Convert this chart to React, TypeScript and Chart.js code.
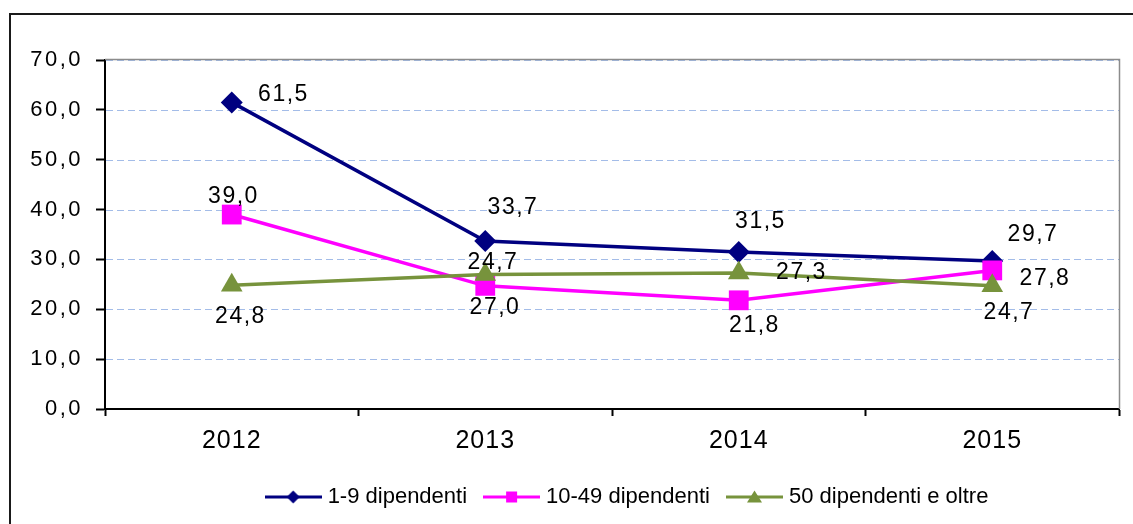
import React, { useEffect, useRef } from 'react';
import { Chart, registerables } from 'chart.js';

Chart.register(...registerables);

const categories = ['2012', '2013', '2014', '2015'];
const seriesNames = ['1-9 dipendenti', '10-49 dipendenti', '50 dipendenti e oltre'];
const small = [61.5, 33.7, 31.5, 29.7];
const medium = [39.0, 24.7, 21.8, 27.8];
const large = [24.8, 27.0, 27.3, 24.7];
const yMin = 0;
const yMax = 70;
const yStep = 10;

const seriesColors = ['#000080', '#FF00FF', '#77933C'];
const seriesMarkers = ['rectRot', 'rect', 'triangle'];
const markerRadius = [11, 14, 12.5];

// pixel offsets of each data label from its point
const labelOffsets = [
  [[51, -8], [27, -33], [21, -30], [40, -26]],
  [[1, -18], [7, -23], [15, 25], [52, 8]],
  [[8, 31], [9, 33], [62, 0], [16, 27]],
];

const FONT = '"Liberation Sans", Arial, sans-serif';
const GRID_COLOR = '#a3bce8';
const fmt = (v: number) => v.toFixed(1).replace('.', ',');

function makeIcon(color: string, marker: string): HTMLCanvasElement {
  const c = document.createElement('canvas');
  const w = 57;
  const h = 18;
  c.width = w;
  c.height = h;
  const ctx = c.getContext('2d')!;
  const cx = w / 2;
  const cy = h / 2;
  ctx.strokeStyle = color;
  ctx.fillStyle = color;
  ctx.lineWidth = 3;
  ctx.beginPath();
  ctx.moveTo(0, cy);
  ctx.lineTo(w, cy);
  ctx.stroke();
  ctx.beginPath();
  if (marker === 'rectRot') {
    ctx.moveTo(cx, cy - 6.5);
    ctx.lineTo(cx + 6.5, cy);
    ctx.lineTo(cx, cy + 6.5);
    ctx.lineTo(cx - 6.5, cy);
  } else if (marker === 'rect') {
    ctx.rect(cx - 5.5, cy - 5.5, 11, 11);
  } else {
    ctx.moveTo(cx, cy - 6.5);
    ctx.lineTo(cx + 7.5, cy + 5.5);
    ctx.lineTo(cx - 7.5, cy + 5.5);
  }
  ctx.closePath();
  ctx.fill();
  return c;
}

const framePlugin = {
  id: 'frame',
  beforeDraw(chart: any) {
    const { ctx, width, height } = chart;
    ctx.save();
    ctx.fillStyle = '#ffffff';
    ctx.fillRect(0, 0, width, height);
    ctx.strokeStyle = '#1a1a1a';
    ctx.lineWidth = 2;
    ctx.beginPath();
    ctx.moveTo(10, height + 5);
    ctx.lineTo(10, 14);
    ctx.lineTo(width + 5, 14);
    ctx.stroke();
    ctx.restore();
  },
  beforeDatasetsDraw(chart: any) {
    const { ctx, chartArea } = chart;
    const y = chart.scales.y;
    ctx.save();
    // dashed horizontal gridlines at each y tick
    ctx.strokeStyle = GRID_COLOR;
    ctx.lineWidth = 1;
    ctx.setLineDash([7, 4]);
    y.ticks.forEach((t: any) => {
      if (t.value === yMin) return;
      const py = Math.round(y.getPixelForValue(t.value)) + 0.5;
      ctx.beginPath();
      ctx.moveTo(chartArea.left + 1, py);
      ctx.lineTo(chartArea.right, py);
      ctx.stroke();
    });
    ctx.setLineDash([]);
    // plot area border (top and right)
    ctx.strokeStyle = '#8c8c8c';
    ctx.lineWidth = 1.5;
    ctx.beginPath();
    ctx.moveTo(chartArea.left, chartArea.top - 0.5);
    ctx.lineTo(chartArea.right + 0.5, chartArea.top - 0.5);
    ctx.lineTo(chartArea.right + 0.5, chartArea.bottom);
    ctx.stroke();
    ctx.restore();
  },
};

// letter spacing on the axis tick labels, and legend shift
const tickSpacingPlugin = {
  id: 'tickSpacing',
  afterLayout(chart: any) {
    const spacing: Record<string, string> = { x: '1px', y: '2.5px' };
    Object.keys(spacing).forEach((id) => {
      const s = chart.scales[id];
      if (!s || s.__spaced) return;
      const orig = s.drawLabels.bind(s);
      s.drawLabels = (area: any) => {
        const ctx = chart.ctx;
        ctx.save();
        try {
          ctx.letterSpacing = spacing[id];
        } catch (e) {
          /* ignore */
        }
        orig(area);
        ctx.restore();
      };
      s.__spaced = true;
    });
    if (chart.legend && !chart.legend.__shifted) {
      chart.legend.left += 17;
      chart.legend.right += 17;
      chart.legend.__shifted = true;
    }
  },
};

const labelPlugin = {
  id: 'valueLabels',
  afterDatasetsDraw(chart: any) {
    const { ctx } = chart;
    ctx.save();
    ctx.font = `23px ${FONT}`;
    ctx.fillStyle = '#000000';
    ctx.textAlign = 'center';
    ctx.textBaseline = 'middle';
    try {
      (ctx as any).letterSpacing = '1.5px';
    } catch (e) {
      /* ignore */
    }
    chart.data.datasets.forEach((ds: any, di: number) => {
      const meta = chart.getDatasetMeta(di);
      meta.data.forEach((pt: any, i: number) => {
        const off = labelOffsets[di][i];
        ctx.fillText(fmt(ds.data[i]), pt.x + off[0] + 0.75, pt.y + off[1]);
      });
    });
    ctx.restore();
  },
};

export default function App() {
  const ref = useRef<HTMLCanvasElement | null>(null);

  useEffect(() => {
    if (!ref.current) return;
    const icons = seriesColors.map((c, i) => makeIcon(c, seriesMarkers[i]));
    const values = [small, medium, large];
    const chart = new Chart(ref.current, {
      type: 'line',
      data: {
        labels: categories,
        datasets: values.map((vals, i) => ({
          label: seriesNames[i],
          data: vals,
          borderColor: seriesColors[i],
          backgroundColor: seriesColors[i],
          borderWidth: 3.5,
          pointStyle: seriesMarkers[i] as any,
          pointRadius: markerRadius[i],
          pointBorderWidth: 0,
          pointBackgroundColor: seriesColors[i],
          tension: 0,
          order: 3 - i,
        })),
      },
      options: {
        animation: false,
        responsive: false,
        maintainAspectRatio: false,
        layout: { padding: { left: 0, right: 14, top: 60, bottom: 6 } },
        plugins: {
          tooltip: { enabled: false },
          legend: {
            position: 'bottom',
            fullSize: false,
            labels: {
              usePointStyle: true,
              pointStyleWidth: 47,
              padding: 21,
              color: '#000000',
              font: { family: FONT, size: 22 },
              sort: (a: any, b: any) => a.datasetIndex - b.datasetIndex,
              generateLabels: (ch: any) =>
                (Chart.defaults.plugins.legend.labels as any)
                  .generateLabels(ch)
                  .map((l: any) => ({ ...l, pointStyle: icons[l.datasetIndex], rotation: 0 })),
            },
          },
        },
        scales: {
          x: {
            type: 'category',
            offset: true,
            afterFit: (s: any) => {
              s.height = 56;
            },
            grid: {
              offset: true,
              drawOnChartArea: false,
              drawTicks: true,
              tickLength: 7,
              tickColor: '#000000',
              tickWidth: 2,
            },
            border: { display: true, color: '#000000', width: 2 },
            ticks: {
              color: '#000000',
              padding: 10,
              font: { family: FONT, size: 25 },
            },
          },
          y: {
            min: yMin,
            max: yMax,
            afterFit: (s: any) => {
              s.width = 105;
            },
            grid: {
              drawOnChartArea: false,
              drawTicks: true,
              tickLength: 9,
              tickColor: '#000000',
              tickWidth: 2,
            },
            border: { display: true, color: '#000000', width: 2 },
            ticks: {
              stepSize: yStep,
              color: '#000000',
              padding: 13,
              font: { family: FONT, size: 22 },
              callback: (v: any) => fmt(Number(v)),
            },
          },
        },
      },
      plugins: [framePlugin, tickSpacingPlugin, labelPlugin],
    });
    return () => chart.destroy();
  }, []);

  return (
    <div style={{ position: 'absolute', left: 0, top: 0, width: 1133, height: 524, overflow: 'hidden', background: '#fff' }}>
      <canvas ref={ref} width={1133} height={524} style={{ display: 'block', width: 1133, height: 524 }} />
    </div>
  );
}
